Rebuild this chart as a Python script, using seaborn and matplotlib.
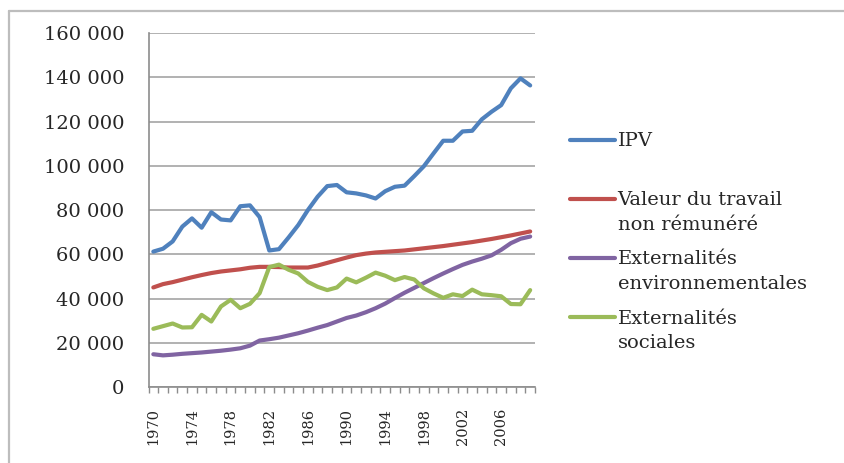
import numpy as np
import pandas as pd
import matplotlib
matplotlib.use('Agg')
import matplotlib.pyplot as plt
import seaborn as sns
from matplotlib.lines import Line2D
from matplotlib.legend_handler import HandlerLine2D
from matplotlib.ticker import FuncFormatter, MultipleLocator, FixedLocator

# --- data (1970-2009) ---
years = list(range(1970, 2010))
year_ticks = years[::4]

ipv = [61200, 62500, 65800, 72500, 76200, 72000, 79000, 75700, 75300, 81700,
       82100, 76800, 61700, 62300, 67600, 73200, 80000, 86000, 90800, 91300,
       88000, 87500, 86600, 85200, 88500, 90500, 91000, 95300, 99800, 105600,
       111300, 111300, 115500, 115800, 121000, 124400, 127400, 135000, 139500, 136300]

travail = [45000, 46500, 47400, 48500, 49600, 50600, 51500, 52200, 52700, 53200,
           53900, 54300, 54300, 54200, 54000, 54000, 54000, 54900, 56100, 57300,
           58500, 59600, 60300, 60800, 61100, 61400, 61700, 62200, 62700, 63200,
           63700, 64300, 64900, 65500, 66200, 66900, 67700, 68500, 69400, 70300]

ext_env = [14800, 14300, 14600, 15000, 15300, 15600, 16000, 16400, 16900, 17500,
           18700, 21000, 21600, 22300, 23300, 24300, 25500, 26800, 28000, 29600,
           31200, 32300, 33800, 35600, 37700, 40200, 42600, 44800, 47000, 49200,
           51300, 53300, 55200, 56700, 58000, 59500, 62000, 65000, 67000, 68000]

ext_soc = [26300, 27500, 28700, 26900, 27000, 32600, 29600, 36400, 39400, 35600,
           37600, 42400, 54200, 55300, 53000, 51300, 47500, 45300, 43800, 45000,
           49000, 47300, 49400, 51700, 50300, 48300, 49700, 48600, 44600, 42300,
           40300, 41900, 41100, 44000, 41900, 41500, 41000, 37500, 37400, 43800]

series = ['IPV', 'Valeur du travail non rémunéré',
          'Externalités environnementales', 'Externalités sociales']
legend_labels = ['IPV\n ', 'Valeur du travail\nnon rémunéré',
                 'Externalités\nenvironnementales', 'Externalités\nsociales']
colors = ['#4F81BD', '#C0504D', '#8064A2', '#9BBB59']

df = pd.DataFrame({
    'annee': years * 4,
    'valeur': ipv + travail + ext_env + ext_soc,
    'serie': np.repeat(series, len(years)),
})

sns.set_style('white')
plt.rcParams['font.family'] = ['DejaVu Serif']

W, H = 844, 463
fig = plt.figure(figsize=(W / 100, H / 100), dpi=100)
ax = fig.add_axes([148.5 / W, 76 / H, (535 - 148.5) / W, 354 / H])

sns.lineplot(data=df, x='annee', y='valeur', hue='serie', hue_order=series,
             palette=dict(zip(series, colors)), linewidth=3, ax=ax, legend=False)

ax.set_xlim(1969.5, 2009.5)
ax.set_ylim(0, 160000)
ax.set_xlabel('')
ax.set_ylabel('')

# y axis: spaces as thousands separator
ax.yaxis.set_major_locator(MultipleLocator(20000))
ax.yaxis.set_major_formatter(FuncFormatter(lambda v, p: f'{int(v):,}'.replace(',', ' ')))
ax.tick_params(axis='y', length=4, width=1, color='#8C8C8C', pad=13.5, labelsize=14)

# x axis: vertical labels every 4 years, tick marks between categories
ax.set_xticks(year_ticks, labels=[str(y) for y in year_ticks],
              rotation=90, fontsize=10.5, va='top', ha='center')
ax.xaxis.set_minor_locator(FixedLocator(np.arange(1969.5, 2010, 1)))
ax.tick_params(axis='x', which='major', length=0, pad=15)
ax.tick_params(axis='x', which='minor', length=4, width=1, color='#8C8C8C', bottom=True)

ax.grid(axis='y', color='#ABABAB', linewidth=1.3)
ax.set_axisbelow(True)
for side in ['top', 'right']:
    ax.spines[side].set_visible(False)
for side in ['left', 'bottom']:
    ax.spines[side].set_color('#8C8C8C')
    ax.spines[side].set_linewidth(1.2)


class FirstLineHandler(HandlerLine2D):
    # put the legend line level with the first text line, like Excel does
    def create_artists(self, legend, orig_handle, xdescent, ydescent,
                       width, height, fontsize, trans):
        arts = super().create_artists(legend, orig_handle, xdescent, ydescent,
                                      width, height, fontsize, trans)
        for a in arts:
            a.set_ydata(np.asarray(a.get_ydata(), dtype=float) + 0.7 * fontsize)
        return arts


handles = [Line2D([0], [0], color=c, lw=3) for c in colors]
leg = ax.legend(handles, legend_labels, loc='upper left',
                bbox_to_anchor=(570 / W, 1 - 132 / H), bbox_transform=fig.transFigure,
                frameon=False, fontsize=14, handlelength=2.3, handletextpad=0.15,
                labelspacing=0.87, borderpad=0, borderaxespad=0,
                handler_map={Line2D: FirstLineHandler()})
for t in leg.get_texts():
    t.set_linespacing(1.45)

# light border along top and left of the picture
fig.add_artist(Line2D([9 / W, 1], [1 - 11 / H] * 2, transform=fig.transFigure,
                      color='#BDBDBD', lw=1.6))
fig.add_artist(Line2D([9 / W] * 2, [0, 1 - 11 / H], transform=fig.transFigure,
                      color='#BDBDBD', lw=1.6))

fig.savefig('out.png', dpi=100)
